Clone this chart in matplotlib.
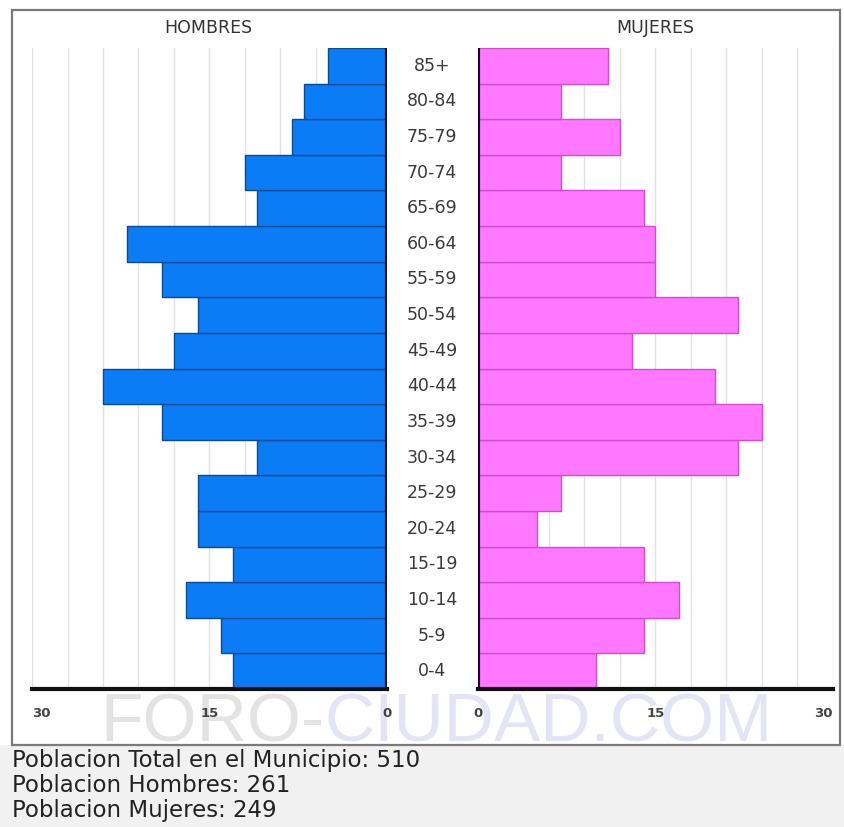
import matplotlib
matplotlib.use("Agg")
import matplotlib.pyplot as plt
from matplotlib.patches import Rectangle
import numpy as np

age_groups = ["0-4", "5-9", "10-14", "15-19", "20-24", "25-29", "30-34", "35-39",
              "40-44", "45-49", "50-54", "55-59", "60-64", "65-69", "70-74",
              "75-79", "80-84", "85+"]
hombres = [13, 14, 17, 13, 16, 16, 11, 19, 24, 18, 16, 19, 22, 11, 12, 8, 7, 5]
mujeres = [10, 14, 17, 14, 5, 7, 22, 24, 20, 13, 22, 15, 15, 14, 7, 12, 7, 11]
tick_vals = [0, 15, 30]
grid_vals = list(range(0, 31, 3))
summary = ["Poblacion Total en el Municipio: 510",
           "Poblacion Hombres: 261",
           "Poblacion Mujeres: 249"]

W, H = 845, 827
fig = plt.figure(figsize=(W / 100, H / 100), dpi=100)
fig.patch.set_facecolor("white")

def fx(px):
    return px / W

def fy(py):
    return 1 - py / H

# background: bottom grey area and frame
fig.add_artist(Rectangle((0, 0), 1, fy(745), transform=fig.transFigure,
                         facecolor="#f1f1f1", edgecolor="none", zorder=-3))
fig.add_artist(Rectangle((fx(12), fy(745)), fx(828), fy(10) - fy(745),
                         transform=fig.transFigure, facecolor="white",
                         edgecolor="#7a7a7a", linewidth=1.6, zorder=-2))

y = np.arange(len(age_groups))
ax_bottom = fy(689)
ax_h = fy(48) - fy(689)

axL = fig.add_axes([fx(32), ax_bottom, fx(387) - fx(32), ax_h])
axR = fig.add_axes([fx(478), ax_bottom, fx(833) - fx(478), ax_h])

for ax in (axL, axR):
    ax.set_facecolor("none")
    ax.set_ylim(-0.5, len(age_groups) - 0.5)
    for g in grid_vals:
        ax.axvline(g, color="#e2e2e2", linewidth=1.0, zorder=0)
    for s in ax.spines.values():
        s.set_visible(False)
    ax.set_yticks([])
    ax.set_xticks([])

axL.barh(y, hombres, height=1.0, color="#0a7cf5", edgecolor="#0a4a94",
         linewidth=1.0, zorder=2)
axL.set_xlim(30, 0)
axR.barh(y, mujeres, height=1.0, color="#ff78ff", edgecolor="#d24cd2",
         linewidth=1.0, zorder=2)
axR.set_xlim(0, 30)

# zero lines and bottom lines
axL.axvline(0, color="#111111", linewidth=3, zorder=3)
axR.axvline(0, color="#1a0020", linewidth=3, zorder=3)
axL.axhline(-0.5, color="#111111", linewidth=3, zorder=3, clip_on=False)
axR.axhline(-0.5, color="#111111", linewidth=3, zorder=3, clip_on=False)

# watermark (drawn behind the axes)
fig.canvas.draw()
renderer = fig.canvas.get_renderer()
wm1 = fig.text(fx(100), fy(741), "FORO-", ha="left", va="baseline",
               fontsize=50, family="Liberation Sans", color="#e3e3e3",
               zorder=-1)
bb = wm1.get_window_extent(renderer=renderer)
fig.text(bb.x1 / fig.bbox.width, fy(741), "CIUDAD.COM", ha="left",
         va="baseline", fontsize=50, family="Liberation Sans",
         color="#e4e4f7", zorder=-1)

# tick labels
tick_y = -1.2
tick_kw = dict(va="center", fontsize=9.5, color="#444444", fontweight="bold")
axL.text(30, tick_y, "30", ha="left", **tick_kw)
axL.text(15, tick_y, "15", ha="center", **tick_kw)
axL.text(0, tick_y, "0", ha="center", **tick_kw)
axR.text(0, tick_y, "0", ha="center", **tick_kw)
axR.text(15, tick_y, "15", ha="center", **tick_kw)
axR.text(30, tick_y, "30", ha="right", **tick_kw)

# age labels
for i, lab in enumerate(age_groups):
    fig.text(fx(432), axL.transData.transform((0, i))[1] / fig.bbox.height,
             lab, ha="center", va="center", fontsize=12.5, color="#3a3a3a")

# titles
fig.text(fx(208), fy(28), "HOMBRES", ha="center", va="center", fontsize=12.5,
         color="#333333")
fig.text(fx(655), fy(28), "MUJERES", ha="center", va="center", fontsize=12.5,
         color="#333333")

# summary text
for i, line in enumerate(summary):
    fig.text(fx(12), fy(761 + i * 25), line, ha="left", va="center",
             fontsize=16.5, color="#222222")

fig.savefig("out.png", dpi=100)
